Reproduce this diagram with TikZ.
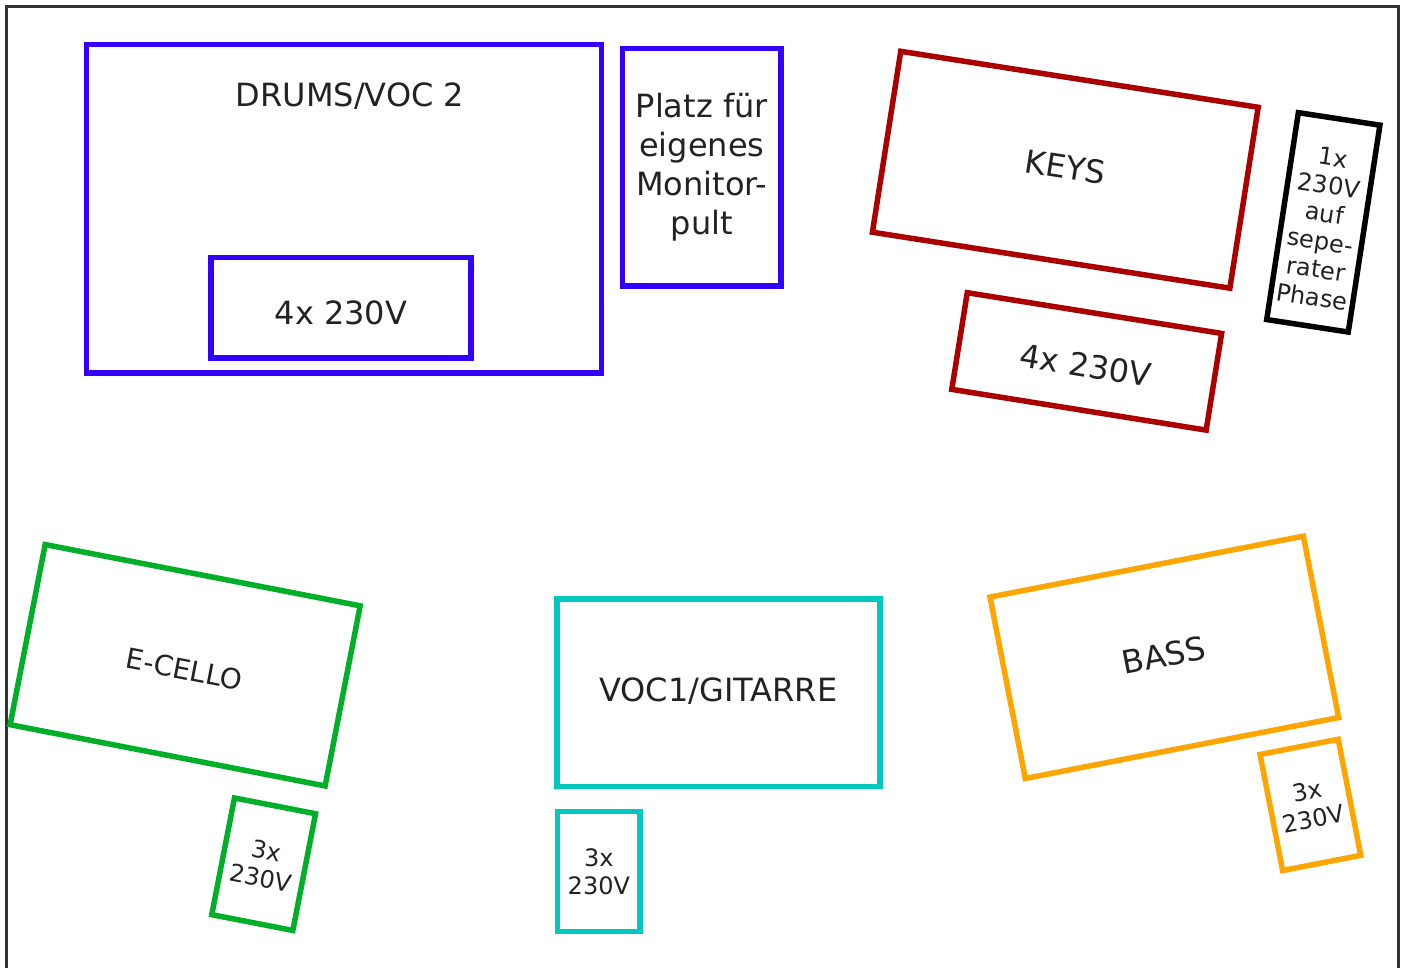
\documentclass[tikz,border=0pt]{standalone}
\usepackage{fontspec}
\setmainfont{DejaVu Sans}
\usepackage{tikz}
\usetikzlibrary{positioning}
\definecolor{blau}{RGB}{51,0,255}
\definecolor{rot}{RGB}{170,0,0}
\definecolor{gruen}{RGB}{0,175,40}
\definecolor{tuerkis}{RGB}{0,200,190}
\definecolor{gelb}{RGB}{255,165,0}
\definecolor{schrift}{RGB}{34,34,34}
\definecolor{rahmen}{RGB}{51,51,51}
% Text im Feld etwas tiefer setzen
\newcommand{\runter}[2]{\raisebox{-#1}[\height][\depth]{#2}}

\begin{document}
\begin{tikzpicture}[x=1pt,y=-1pt,
    feld/.style={draw,line width=5.5pt,inner sep=0pt,align=center,text=schrift,
                 font=\fontsize{32}{39}\selectfont},
    klein/.style={font=\fontsize{24}{28}\selectfont}]
  \useasboundingbox (0,0) rectangle (1407,968);
  \draw[rahmen,line width=2.5pt] (6.5,975) -- (6.5,6.5) -- (1398.5,6.5) -- (1398.5,975);
  % Schlagzeug
  \node[feld,draw=blau,minimum width=515pt,minimum height=328.5pt] (drums) at (344,208.75) {};
  \node[feld,draw=none] (drumstitel) at (350,96) {DRUMS/VOC 2};
  \node[feld,draw=blau,minimum width=260pt,minimum height=100.5pt] (strom1) at (341,307.75) {\runter{5pt}{4x 230V}};
  \node[feld,draw=blau,minimum width=158.5pt,minimum height=237.5pt] (monitor) at (701.75,167.25)
       {Platz für\\eigenes\\Monitor-\\pult};
  % Keys
  \node[feld,draw=rot,rotate=-8.9,minimum width=361.8pt,minimum height=183.1pt] (keys) at (1065.3,169.75) {\runter{-3pt}{KEYS}};
  \node[feld,draw=rot,rotate=-9.1,minimum width=257.6pt,minimum height=97.9pt] (strom2) at (1086.7,361.4) {\runter{4pt}{4x 230V}};
  \node[feld,draw=black,rotate=-8.7,minimum width=82.5pt,minimum height=209.3pt,font=\fontsize{24}{28.2}\selectfont]
       (phase) at (1323.3,222.35) {\runter{8pt}{\begin{tabular}{@{}c@{}}1x\\230V\\auf\\sepe-\\rater\\Phase\end{tabular}}};
  % Cello
  \node[feld,draw=gruen,rotate=-11,minimum width=320.9pt,minimum height=183.5pt,font=\fontsize{28}{34}\selectfont]
       (cello) at (185.15,665.25) {\runter{4pt}{E-CELLO}};
  \node[feld,klein,draw=gruen,rotate=-11,minimum width=82.6pt,minimum height=118.9pt] (strom3) at (263.65,864.2) {3x\\230V};
  % Gesang / Gitarre
  \node[feld,draw=tuerkis,minimum width=323pt,minimum height=187.3pt] (gitarre) at (718.3,692.85) {\runter{-2pt}{VOC1/GITARRE}};
  \node[feld,klein,draw=tuerkis,minimum width=82.7pt,minimum height=120pt] (strom4) at (598.85,871.5) {3x\\230V};
  % Bass
  \node[feld,draw=gelb,rotate=11,minimum width=319.2pt,minimum height=184.8pt] (bass) at (1164.3,657.3) {\runter{-2pt}{BASS}};
  \node[feld,klein,draw=gelb,rotate=11,minimum width=79.6pt,minimum height=118.2pt] (strom5) at (1310.4,804.9) {3x\\230V};
\end{tikzpicture}
\end{document}
